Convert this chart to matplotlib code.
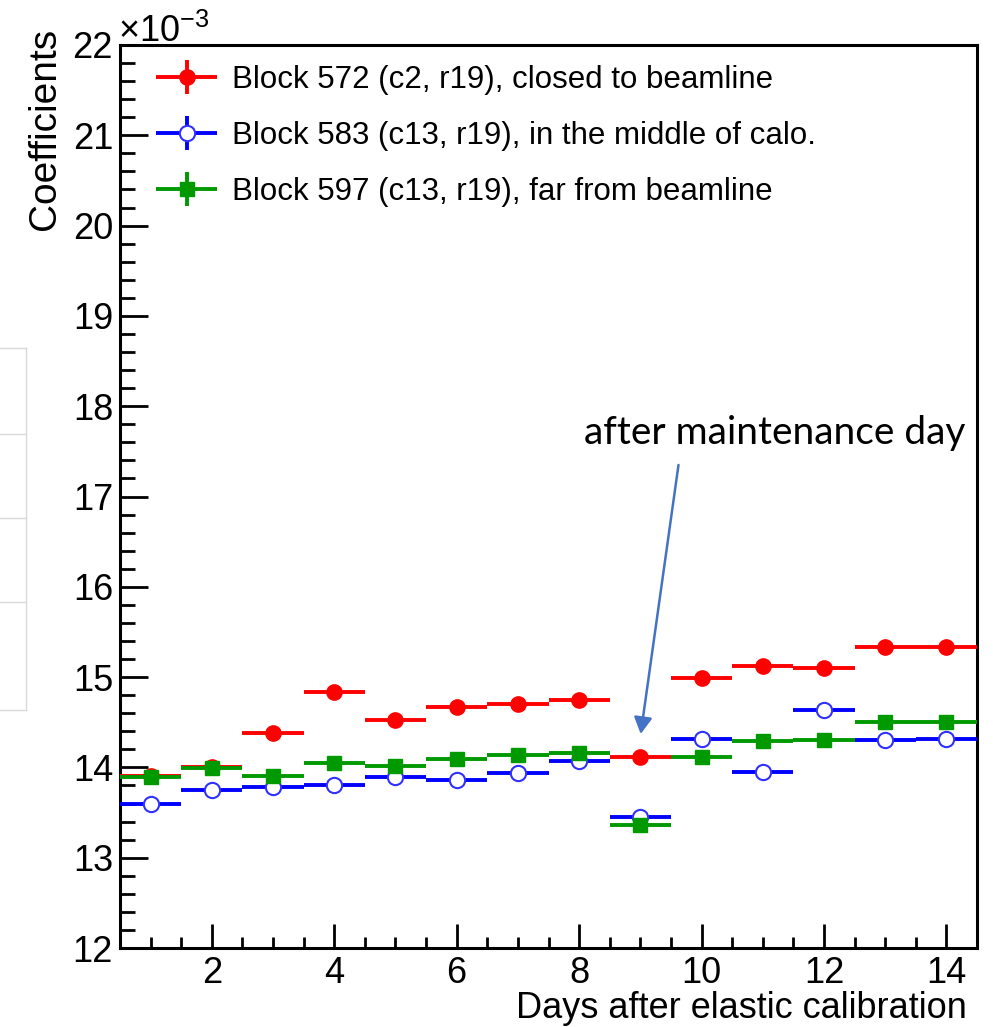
"""
Calibration coefficients vs days after elastic calibration (ROOT-style plot)
"""

import matplotlib
matplotlib.use('Agg')
import matplotlib.pyplot as plt
from matplotlib.lines import Line2D
from matplotlib.ticker import MultipleLocator
from matplotlib.legend_handler import HandlerErrorbar

plt.rcParams['font.family'] = ['Liberation Sans', 'DejaVu Sans']
plt.rcParams['mathtext.fontset'] = 'custom'
plt.rcParams['mathtext.rm'] = 'Liberation Sans'
plt.rcParams['mathtext.it'] = 'Liberation Sans'

# data (coefficients in units of 1e-3)
days = [1, 2, 3, 4, 5, 6, 7, 8, 9, 10, 11, 12, 13, 14]
block_572 = [13.90, 14.00, 14.38, 14.83, 14.52, 14.67, 14.70, 14.75, 14.12, 14.99, 15.12, 15.10, 15.33, 15.33]
block_583 = [13.59, 13.75, 13.78, 13.81, 13.89, 13.86, 13.94, 14.07, 13.45, 14.31, 13.95, 14.64, 14.30, 14.31]
block_597 = [13.89, 13.99, 13.90, 14.05, 14.01, 14.09, 14.14, 14.16, 13.36, 14.12, 14.29, 14.30, 14.50, 14.50]
day_width = 0.5   # half bin width
coef_err = 0.01   # tiny statistical error (not visible)

labels = ['Block 572 (c2, r19), closed to beamline',
          'Block 583 (c13, r19), in the middle of calo.',
          'Block 597 (c13, r19), far from beamline']

fig = plt.figure(figsize=(9.93, 10.27), dpi=100)
ax = fig.add_axes([120/993, 79/1027, 857/993, 903/1027])

kw = dict(xerr=day_width, yerr=coef_err, ls='none', elinewidth=2.8, capsize=0)
ax.errorbar(days, block_572, fmt='o', color='#ff0000', ms=11, label=labels[0], zorder=3, **kw)
ax.errorbar(days, block_583, fmt='o', color='#0000ff', mfc='white', mec='#3030ff', mew=1.5,
            ms=11, label=labels[1], zorder=4, **kw)
ax.errorbar(days, block_597, fmt='s', color='#009900', ms=10, label=labels[2], zorder=5, **kw)

ax.set_xlim(0.5, 14.5)
ax.set_ylim(12, 22)
ax.xaxis.set_major_locator(MultipleLocator(2))
ax.xaxis.set_minor_locator(MultipleLocator(0.5))
ax.yaxis.set_major_locator(MultipleLocator(1))
ax.yaxis.set_minor_locator(MultipleLocator(0.2))

ax.tick_params(axis='both', which='both', direction='in', width=2, labelsize=26,
               top=False, right=False)
ax.tick_params(axis='y', which='major', length=20, pad=5)
ax.tick_params(axis='y', which='minor', length=11)
ax.tick_params(axis='x', which='major', length=17, pad=6)
ax.tick_params(axis='x', which='minor', length=8)
for s in ax.spines.values():
    s.set_linewidth(2.2)

fig.text(118/993, 1 - 42/1027, r'$\times10^{-3}$', fontsize=26, ha='left', va='baseline')
fig.text(45/993, 1 - 28/1027, 'Coefficients', fontsize=28, rotation=90, ha='center', va='top')
fig.text(967/993, 1 - 1018/1027, 'Days after elastic calibration', fontsize=26,
         ha='right', va='baseline')

leg = ax.legend(loc='upper left', bbox_to_anchor=(0.028, 0.992), frameon=False,
                fontsize=22.5, handlelength=1.94, handletextpad=0.48, labelspacing=0.84,
                borderaxespad=0,
                handler_map={type(ax.containers[0]): HandlerErrorbar(xerr_size=0.97, yerr_size=0.55)})

# annotation for the maintenance day
ax.annotate('', xy=(9.0, 14.34), xytext=(9.63, 17.38),
            arrowprops=dict(arrowstyle='-|>,head_length=1.0,head_width=0.55',
                            color='#4472c4', lw=1.8))
ax.text(8.08, 17.70, 'after maintenance day', fontsize=28, family=['Lato', 'DejaVu Sans'],
        ha='left', va='center')

# faint table lines left over from the slide
grey = '#d9d9d9'
fig.add_artist(Line2D([26/993, 26/993], [1 - 348/1027, 1 - 710/1027], color=grey, lw=1))
for yy in [348, 434, 518, 602, 710]:
    fig.add_artist(Line2D([0, 26/993], [1 - yy/1027, 1 - yy/1027], color=grey, lw=1))

fig.savefig('out.png', dpi=100)
